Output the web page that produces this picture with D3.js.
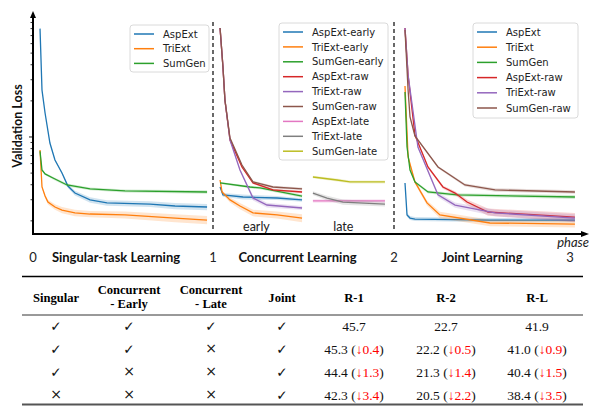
<!DOCTYPE html>
<html><head><meta charset="utf-8">
<script src="https://cdn.jsdelivr.net/npm/d3@7"></script>
<style>body{margin:0;background:#fff}svg{display:block}</style>
</head><body>
<svg id="c" width="589" height="406"></svg>
<script>
// ---------- DATA: [phase, validation loss, band half-width] ----------
const singAspExt = [[0.039,8.0,0],[0.05,2.46,0.03],[0.067,1.585,0.02],[0.094,0.891,0.015],[0.122,0.643,0.012],[0.161,0.501,0.012],[0.194,0.39,0.014],[0.233,0.341,0.016],[0.317,0.299,0.016],[0.411,0.282,0.015],[0.65,0.276,0.015],[0.789,0.266,0.016],[0.967,0.261,0.016]];
const singTriExt = [[0.039,0.779,0],[0.05,0.383,0.01],[0.067,0.322,0.012],[0.083,0.287,0.013],[0.122,0.261,0.014],[0.161,0.246,0.015],[0.233,0.233,0.015],[0.317,0.228,0.014],[0.511,0.224,0.015],[0.789,0.211,0.016],[0.967,0.203,0.016]];
const singSumGen = [[0.039,0.76,0],[0.05,0.531,0.008],[0.067,0.492,0.01],[0.111,0.455,0.012],[0.189,0.398,0.012],[0.317,0.369,0.01],[0.511,0.355,0.01],[0.967,0.348,0.012]];

const earlyAspExt = [[1.039,0.383,0.005],[1.055,0.329,0.012],[1.166,0.316,0.015],[1.354,0.31,0.012],[1.492,0.299,0.01]];
const earlyTriExt = [[1.039,0.438,0.005],[1.05,0.348,0.01],[1.094,0.299,0.014],[1.149,0.266,0.016],[1.221,0.233,0.015],[1.354,0.224,0.015],[1.492,0.211,0.016]];
const earlySumGen = [[1.039,0.414,0.008],[1.204,0.383,0.01],[1.26,0.376,0.01],[1.492,0.322,0.01]];
const earlyAspRaw = [[1.039,8.09,0],[1.055,3.83,0.05],[1.066,2.03,0.03],[1.094,0.944,0.02],[1.16,0.562,0.01],[1.221,0.414,0.008],[1.331,0.362,0.008],[1.492,0.348,0.008]];
const earlyTriRaw = [[1.039,8.09,0],[1.055,3.83,0.05],[1.066,2.03,0.03],[1.094,0.944,0.02],[1.149,0.531,0.015],[1.221,0.31,0.015],[1.298,0.271,0.012],[1.492,0.256,0.01]];
const earlySumRaw = [[1.039,8.09,0],[1.055,3.83,0.05],[1.066,2.03,0.03],[1.094,0.981,0.02],[1.16,0.584,0.012],[1.221,0.422,0.01],[1.331,0.383,0.01],[1.492,0.369,0.01]];
const lateAspExt = [[1.552,0.293,0.01],[1.757,0.293,0.01],[1.95,0.293,0.01]];
const lateTriExt = [[1.552,0.341,0.012],[1.63,0.31,0.014],[1.718,0.287,0.014],[1.95,0.276,0.012]];
const lateSumGen = [[1.552,0.464,0.012],[1.685,0.438,0.012],[1.757,0.422,0.012],[1.95,0.422,0.012]];

const jointAspExt = [[2.0625,0.414,0],[2.074,0.224,0.008],[2.091,0.211,0.008],[2.119,0.207,0.008],[2.545,0.203,0.008],[3.028,0.203,0.008]];
const jointTriExt = [[2.0625,2.66,0],[2.08,0.681,0.02],[2.119,0.422,0.015],[2.1875,0.282,0.014],[2.261,0.224,0.014],[2.545,0.192,0.012],[3.028,0.188,0.012]];
const jointSumGen = [[2.0625,2.37,0],[2.074,0.825,0.015],[2.091,0.531,0.012],[2.119,0.422,0.01],[2.193,0.348,0.01],[2.358,0.329,0.01],[3.028,0.316,0.012]];
const jointAspRaw = [[2.0625,8.09,0],[2.08,3.28,0.05],[2.119,1.039,0.03],[2.193,0.562,0.015],[2.278,0.383,0.012],[2.347,0.341,0.012],[2.415,0.287,0.014],[2.534,0.237,0.016],[3.028,0.215,0.018]];
const jointTriRaw = [[2.0625,8.09,0],[2.08,3.28,0.05],[2.136,0.825,0.02],[2.25,0.329,0.015],[2.347,0.271,0.014],[2.574,0.233,0.015],[3.028,0.211,0.016]];
const jointSumRaw = [[2.0625,7.8,0],[2.08,2.46,0.04],[2.091,1.468,0.03],[2.119,1.019,0.02],[2.25,0.562,0.012],[2.403,0.398,0.012],[2.574,0.362,0.012],[3.028,0.348,0.012]];

const phaseTicks = [0,1,2,3];
const sectionLabels = ["Singular-task Learning","Concurrent Learning","Joint Learning"];
const yMajorTicks = [1];
const yMinorTicks = [0.2,0.3,0.4,0.5,0.6,0.7,0.8,0.9,2,3,4,5,6,7,8,9];

// table data
const colHeaders = [["Singular"],["Concurrent","- Early"],["Concurrent","- Late"],["Joint"],["R-1"],["R-2"],["R-L"]];
const useSingular = [1,1,1,0];
const useEarly    = [1,1,0,0];
const useLate     = [1,0,0,0];
const useJoint    = [1,1,1,1];
const rouge1 = [45.7,45.3,44.4,42.3];
const rouge1Drop = [null,0.4,1.3,3.4];
const rouge2 = [22.7,22.2,21.3,20.5];
const rouge2Drop = [null,0.5,1.4,2.2];
const rougeL = [41.9,41.0,40.4,38.4];
const rougeLDrop = [null,0.9,1.5,3.5];

// ---------- DRAW ----------
const C = {blue:"#1f77b4",orange:"#ff7f0e",green:"#2ca02c",red:"#d62728",purple:"#9467bd",brown:"#8c564b",pink:"#e377c2",grey:"#7f7f7f",olive:"#bcbd22"};
const svg = d3.select("#c");
const x = d3.scaleLinear().domain([0,1,2,3]).range([33,213,394,570]);
const y = d3.scaleLog().domain([0.1554,10.39]).range([234,15]);

const panel1 = [["AspExt",C.blue,singAspExt],["TriExt",C.orange,singTriExt],["SumGen",C.green,singSumGen]];
const panel2 = [["AspExt-early",C.blue,earlyAspExt],["TriExt-early",C.orange,earlyTriExt],["SumGen-early",C.green,earlySumGen],
  ["AspExt-raw",C.red,earlyAspRaw],["TriExt-raw",C.purple,earlyTriRaw],["SumGen-raw",C.brown,earlySumRaw],
  ["AspExt-late",C.pink,lateAspExt],["TriExt-late",C.grey,lateTriExt],["SumGen-late",C.olive,lateSumGen]];
const panel3 = [["AspExt",C.blue,jointAspExt],["TriExt",C.orange,jointTriExt],["SumGen",C.green,jointSumGen],
  ["AspExt-raw",C.red,jointAspRaw],["TriExt-raw",C.purple,jointTriRaw],["SumGen-raw",C.brown,jointSumRaw]];

const area = d3.area().x(d=>x(d[0])).y0(d=>y(Math.max(0.16,d[1]-d[2]))).y1(d=>y(d[1]+d[2]));
const line = d3.line().x(d=>x(d[0])).y(d=>y(d[1]));

const plot = svg.append("g");
[panel1,panel2,panel3].forEach(p=>p.forEach(([n,c,d])=>{
  plot.append("path").attr("d",area(d)).attr("fill",c).attr("fill-opacity",0.2).attr("stroke","none");
  plot.append("path").attr("d",line(d)).attr("fill","none").attr("stroke",c).attr("stroke-width",1.3);
}));

// dashed phase separators
svg.selectAll("line.sep").data([1,2]).enter().append("line")
  .attr("x1",d=>x(d)).attr("x2",d=>x(d)).attr("y1",22).attr("y2",232)
  .attr("stroke","#444").attr("stroke-width",1.6).attr("stroke-dasharray","4,3");

// axes
svg.append("line").attr("x1",33).attr("x2",33).attr("y1",16).attr("y2",235).attr("stroke","#000").attr("stroke-width",2);
svg.append("path").attr("d","M33,11 L30,18 L36,18 Z").attr("fill","#000");
svg.append("line").attr("x1",32).attr("x2",583).attr("y1",234).attr("y2",234).attr("stroke","#000").attr("stroke-width",2);
svg.append("path").attr("d","M589,234 L581,231 L581,237 Z").attr("fill","#000");

svg.selectAll("line.ymin").data(yMinorTicks).enter().append("line")
  .attr("x1",30.5).attr("x2",33).attr("y1",d=>y(d)).attr("y2",d=>y(d)).attr("stroke","#000").attr("stroke-width",0.8);
svg.selectAll("line.ymaj").data(yMajorTicks).enter().append("line")
  .attr("x1",29).attr("x2",33).attr("y1",d=>y(d)).attr("y2",d=>y(d)).attr("stroke","#000").attr("stroke-width",0.9);

svg.append("text").attr("transform","translate(22,126) rotate(-90)").attr("text-anchor","middle")
  .attr("font-family","Lato").attr("font-weight","bold").attr("font-size",12.5).attr("fill","#111").text("Validation Loss");

svg.selectAll("text.pt").data(phaseTicks).enter().append("text")
  .attr("x",d=>x(d)).attr("y",262).attr("text-anchor","middle")
  .attr("font-family","Lato").attr("font-size",13).attr("fill","#222").text(d=>d);
const secDx=[-7,-6,0];
svg.selectAll("text.sec").data(sectionLabels).enter().append("text")
  .attr("x",(d,i)=>x(i+0.5)+secDx[i]).attr("y",262).attr("text-anchor","middle")
  .attr("font-family","Lato").attr("font-weight","bold").attr("font-size",13).attr("fill","#111").text(d=>d);
svg.append("text").attr("x",589).attr("y",247).attr("text-anchor","end")
  .attr("font-family","Lato").attr("font-style","italic").attr("font-size",13).attr("fill","#222").text("phase");
svg.append("text").attr("x",x(1.24)).attr("y",231).attr("text-anchor","middle")
  .attr("font-family","Lato").attr("font-size",12.5).attr("fill","#222").text("early");
svg.append("text").attr("x",x(1.72)).attr("y",231).attr("text-anchor","middle")
  .attr("font-family","Lato").attr("font-size",12.5).attr("fill","#222").text("late");

// legends
function legend(x0,y0,w,h,items,step){
  const g=svg.append("g");
  g.append("rect").attr("x",x0).attr("y",y0).attr("width",w).attr("height",h).attr("rx",3)
    .attr("fill","#fff").attr("fill-opacity",0.85).attr("stroke","#d0d0d0").attr("stroke-width",0.8);
  items.forEach(([n,c],i)=>{
    const yy=y0+9+i*step;
    g.append("line").attr("x1",x0+4).attr("x2",x0+24).attr("y1",yy).attr("y2",yy).attr("stroke",c).attr("stroke-width",1.5);
    g.append("text").attr("x",x0+33).attr("y",yy+3.6).attr("font-family","DejaVu Sans").attr("font-size",10).attr("fill","#222").text(n);
  });
}
legend(130,25,79,47,panel1,14.7);
legend(279,23,109,137,panel2,14.9);
legend(473,23,105,95,panel3,15.2);

// ---------- TABLE ----------
const T = svg.append("g").attr("font-family","Liberation Serif").attr("fill","#000");
const colX = [56,129,211,282,354,446,537];
T.append("line").attr("x1",22).attr("x2",583).attr("y1",276.5).attr("y2",276.5).attr("stroke","#000").attr("stroke-width",1.5);
T.append("line").attr("x1",22).attr("x2",583).attr("y1",315).attr("y2",315).attr("stroke","#000").attr("stroke-width",0.8);
T.append("line").attr("x1",22).attr("x2",583).attr("y1",404.5).attr("y2",404.5).attr("stroke","#555").attr("stroke-width",2.2);
colHeaders.forEach((h,i)=>{
  h.forEach((s,j)=>{
    const yy = h.length===1 ? 301.5 : 294+j*13.6;
    T.append("text").attr("x",colX[i]).attr("y",yy).attr("text-anchor","middle").attr("font-weight","bold").attr("font-size",12.6).text(s);
  });
});
const rowY = [330.5,353.5,376.5,399.5];
const flags=[useSingular,useEarly,useLate,useJoint];
flags.forEach((f,c)=>f.forEach((v,r)=>{
  T.append("text").attr("x",colX[c]).attr("y",rowY[r]+(v?0:-0.5)).attr("text-anchor","middle")
    .attr("font-family","DejaVu Sans").attr("font-size",v?13.5:14).attr("fill","#111").text(v?"✓":"×");
}));
[[rouge1,rouge1Drop],[rouge2,rouge2Drop],[rougeL,rougeLDrop]].forEach(([vals,drops],k)=>{
  vals.forEach((v,r)=>{
    const t=T.append("text").attr("x",colX[4+k]).attr("y",rowY[r]).attr("text-anchor","middle").attr("font-size",13.5).attr("fill","#111");
    t.append("tspan").text(v.toFixed(1));
    if(drops[r]!=null){
      t.append("tspan").text(" (");
      t.append("tspan").attr("fill","#ff0000").text("↓"+drops[r].toFixed(1));
      t.append("tspan").text(")");
    }
  });
});
</script>
</body></html>
